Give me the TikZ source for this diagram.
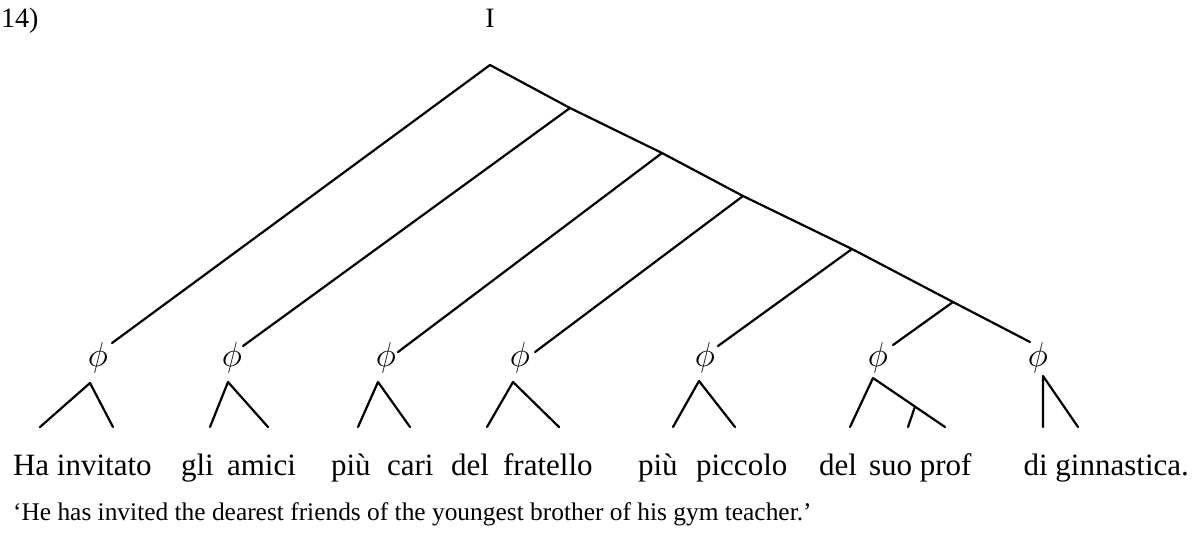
\documentclass[tikz,border=0pt]{standalone}
\usepackage{fontspec}
\setmainfont{Liberation Serif}
\usetikzlibrary{calc}
\begin{document}
\begin{tikzpicture}[x=0.5pt,y=-0.5pt, line width=1.1pt, line cap=round, line join=round,
  word/.style={anchor=base west, inner sep=0pt, font=\fontsize{15.5}{18}\selectfont},
  gloss/.style={anchor=base west, inner sep=0pt, font=\fontsize{12.7}{15}\selectfont},
  label/.style={anchor=base, inner sep=0pt, font=\fontsize{14}{16}\selectfont},
  phinode/.style={inner sep=0pt, font=\fontsize{17}{19}\selectfont}]
\useasboundingbox (0,0) rectangle (1194,536);

% header
\node[label, anchor=base west] (num) at (0,27) {14)};
\node[label] (root) at (490,27) {I};

% spine
\coordinate (A) at (490,65);
\coordinate (B) at (570,108);
\coordinate (C) at (662,153);
\coordinate (D) at (743,196);
\coordinate (E) at (852,249);
\coordinate (F) at (953,302);
\coordinate (G) at (1030,342);
\draw (A) -- (B) -- (C) -- (D) -- (E) -- (F) -- (G);

% branch ends
\coordinate (a1) at (112,343);
\coordinate (a2) at (243,346);
\coordinate (a3) at (398,352);
\coordinate (a4) at (535,352);
\coordinate (a5) at (718,346);
\coordinate (a6) at (893,345);
\draw (A) -- (a1);
\draw (B) -- (a2);
\draw (C) -- (a3);
\draw (D) -- (a4);
\draw (E) -- (a5);
\draw (F) -- (a6);

% phi nodes
\foreach \i/\x in {1/98,2/232,3/386,4/520,5/705,6/878,7/1038}
  \node[phinode] (p\i) at (\x,358) {$\phi$};

% triangles
\coordinate (t1) at (90,383);
\coordinate (t2) at (228,382);
\coordinate (t3) at (378,382);
\coordinate (t4) at (513,382);
\coordinate (t5) at (699,381);
\coordinate (t6) at (873,378);
\coordinate (t7) at (1043,376);
\coordinate (l1) at (40,427);   \coordinate (r1) at (113,427);
\coordinate (l2) at (210,427);  \coordinate (r2) at (268,427);
\coordinate (l3) at (358,427);  \coordinate (r3) at (410,427);
\coordinate (l4) at (487,427);  \coordinate (r4) at (559,427);
\coordinate (l5) at (673,427);  \coordinate (r5) at (735,427);
\coordinate (l6) at (850,427);  \coordinate (r6) at (945,427);
\coordinate (l7) at (1043,427); \coordinate (r7) at (1078,427);
\foreach \i in {1,...,7}
  \draw (l\i) -- (t\i) -- (r\i);
\coordinate (m6) at ($(t6)!0.583!(r6)$);
\coordinate (n6) at (908,427);
\draw (m6) -- (n6);

% words
\node[word] (w1) at (12,475) {Ha invitato};
\node[word] (w2) at (180,475) {gli};
\node[word] (w3) at (226,475) {amici};
\node[word] (w4) at (330,475) {più};
\node[word] (w5) at (386,475) {cari};
\node[word] (w6) at (450,475) {del};
\node[word] (w7) at (502,475) {fratello};
\node[word] (w8) at (637,475) {più};
\node[word] (w9) at (695,475) {piccolo};
\node[word] (w10) at (818,475) {del};
\node[word] (w11) at (868,475) {suo prof};
\node[word, anchor=base east] (w12) at (1190,475) {di ginnastica.};

% gloss
\node[gloss] (tr) at (12,520) {‘He has invited the dearest friends of the youngest brother of his gym teacher.’};
\end{tikzpicture}
\end{document}
